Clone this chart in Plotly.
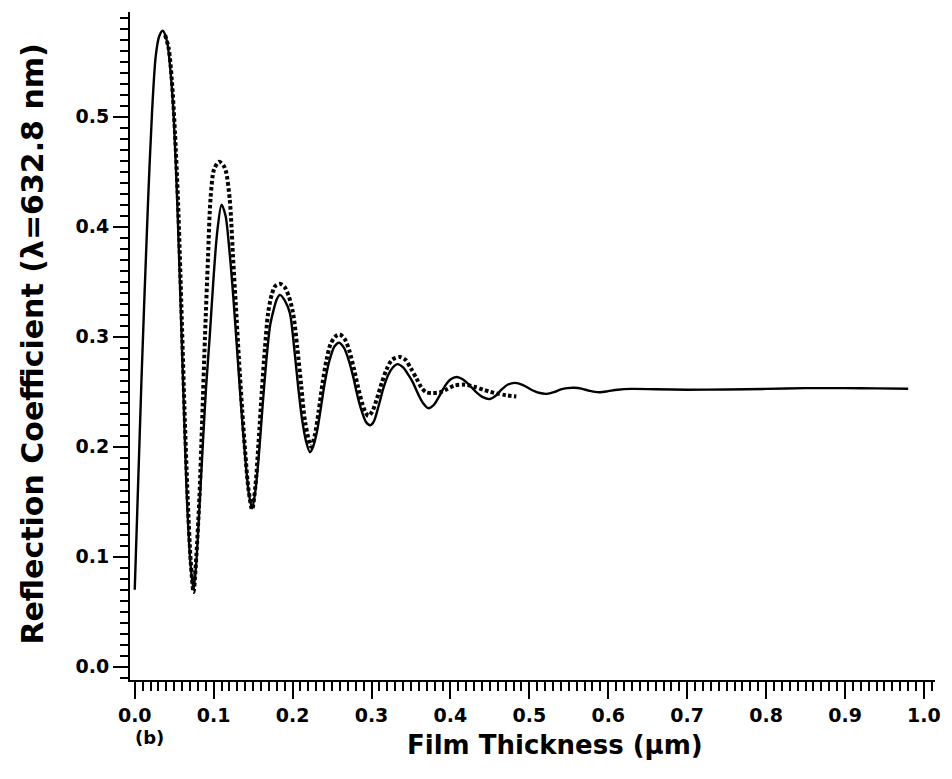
import plotly.graph_objects as go

# Computed reflection coefficient vs. film thickness (solid) and the
# second model (dotted), both at lambda = 632.8 nm
thickness_solid = [
    0.000, 0.0085, 0.017, 0.022, 0.0266, 0.031, 0.0355,
    0.041, 0.0455, 0.0494, 0.054, 0.059, 0.0634, 0.066, 0.0705, 0.0745,
    0.078, 0.0825, 0.0865, 0.0905, 0.095, 0.100, 0.1045, 0.110,
    0.115, 0.120, 0.125, 0.130, 0.135, 0.140, 0.1445, 0.1487,
    0.1525, 0.157, 0.162, 0.167, 0.1715, 0.1755, 0.180, 0.184,
    0.190, 0.1965, 0.202, 0.207, 0.212, 0.217, 0.222,
    0.226, 0.231, 0.236, 0.241, 0.247, 0.253, 0.259,
    0.265, 0.271, 0.277, 0.281, 0.286, 0.293, 0.2985,
    0.303, 0.309, 0.315, 0.321, 0.327, 0.333,
    0.340, 0.347, 0.3527, 0.359, 0.365, 0.372,
    0.379, 0.386, 0.393, 0.400, 0.408,
    0.416, 0.424, 0.432, 0.441, 0.450,
    0.457, 0.465, 0.473, 0.4816,
    0.492, 0.502, 0.512, 0.522,
    0.531, 0.540, 0.548, 0.557,
    0.566, 0.575, 0.583, 0.590,
    0.600, 0.612, 0.630, 0.660, 0.700, 0.750, 0.800, 0.850, 0.900, 0.940, 0.980,
]
reflect_solid = [
    0.070, 0.260, 0.425, 0.505, 0.555, 0.573, 0.578,
    0.568, 0.540, 0.500, 0.420, 0.310, 0.210, 0.155, 0.095, 0.070,
    0.095, 0.152, 0.205, 0.255, 0.300, 0.355, 0.395, 0.420,
    0.410, 0.378, 0.335, 0.285, 0.235, 0.190, 0.158, 0.144,
    0.158, 0.190, 0.237, 0.280, 0.310, 0.323, 0.334, 0.338,
    0.333, 0.3215, 0.290, 0.255, 0.225, 0.205, 0.195,
    0.200, 0.214, 0.236, 0.259, 0.279, 0.291, 0.2945,
    0.290, 0.279, 0.263, 0.250, 0.236, 0.2225, 0.2195,
    0.223, 0.237, 0.253, 0.265, 0.272, 0.275,
    0.272, 0.265, 0.258, 0.248, 0.240, 0.235,
    0.238, 0.246, 0.255, 0.261, 0.2633,
    0.261, 0.256, 0.250, 0.245, 0.2433,
    0.246, 0.252, 0.2565, 0.258,
    0.256, 0.252, 0.249, 0.248,
    0.2495, 0.252, 0.2532, 0.2535,
    0.2528, 0.251, 0.2498, 0.2495,
    0.2505, 0.2518, 0.2525, 0.2522, 0.2518, 0.2520, 0.2525, 0.2532, 0.2532, 0.2530, 0.2527,
]

thickness_dotted = [
    0.0385, 0.043, 0.047, 0.051, 0.055, 0.059, 0.063, 0.067, 0.071, 0.0745,
    0.078, 0.082, 0.0855, 0.089, 0.0929, 0.096, 0.1005, 0.107,
    0.113, 0.116, 0.1204, 0.1224, 0.1245, 0.128, 0.132, 0.136, 0.140, 0.144, 0.1487,
    0.153, 0.157, 0.161, 0.165, 0.169, 0.1735, 0.178, 0.184,
    0.190, 0.1955, 0.2006, 0.206, 0.211, 0.216, 0.2235,
    0.228, 0.233, 0.238, 0.243, 0.248, 0.254, 0.2598,
    0.266, 0.272, 0.278, 0.283, 0.288, 0.292, 0.296,
    0.301, 0.307, 0.313, 0.319, 0.326, 0.336,
    0.343, 0.350, 0.357, 0.363, 0.3695, 0.378, 0.3866, 0.395, 0.405, 0.418,
    0.430, 0.4415, 0.450, 0.458, 0.470, 0.4835,
]
reflect_dotted = [
    0.574, 0.562, 0.533, 0.485, 0.420, 0.330, 0.235, 0.155, 0.095, 0.068,
    0.100, 0.155, 0.225, 0.300, 0.373, 0.425, 0.452, 0.459,
    0.455, 0.449, 0.4245, 0.403, 0.373, 0.330, 0.280, 0.235, 0.195, 0.162, 0.143,
    0.165, 0.205, 0.250, 0.290, 0.3215, 0.338, 0.346, 0.348,
    0.345, 0.336, 0.3215, 0.290, 0.255, 0.222, 0.200,
    0.210, 0.232, 0.258, 0.279, 0.293, 0.300, 0.302,
    0.298, 0.287, 0.270, 0.254, 0.240, 0.232, 0.228,
    0.232, 0.244, 0.258, 0.270, 0.279, 0.2815,
    0.279, 0.271, 0.262, 0.254, 0.2494, 0.2488, 0.2494, 0.252, 0.2555, 0.2564,
    0.2545, 0.2518, 0.2500, 0.2485, 0.2468, 0.2457,
]

x_tick_vals = [0.0, 0.1, 0.2, 0.3, 0.4, 0.5, 0.6, 0.7, 0.8, 0.9, 1.0]
x_tick_text = ["0.0", "0.1", "0.2", "0.3", "0.4", "0.5", "0.6", "0.7", "0.8", "0.9", "1.0"]
y_tick_vals = [0.0, 0.1, 0.2, 0.3, 0.4, 0.5]
y_tick_text = ["0.0", "0.1", "0.2", "0.3", "0.4", "0.5"]

FONT = "DejaVu Sans"

fig = go.Figure()
fig.add_trace(go.Scatter(
    x=thickness_solid, y=reflect_solid, mode="lines",
    line=dict(color="black", width=2.4, shape="spline", smoothing=0.8),
    showlegend=False,
))
fig.add_trace(go.Scatter(
    x=thickness_dotted, y=reflect_dotted, mode="lines",
    line=dict(color="black", width=4, dash="3.5px,2.5px", shape="spline", smoothing=0.8),
    showlegend=False,
))

axis_common = dict(
    showline=True, linecolor="black", linewidth=2,
    ticks="outside", tickcolor="black", tickwidth=2,
    showgrid=False, zeroline=False,
    tickfont=dict(family=FONT, size=19, color="black", weight="bold"),
)

fig.update_xaxes(
    range=[-0.006, 1.014], tickvals=x_tick_vals, ticktext=x_tick_text,
    ticklen=17,
    minor=dict(dtick=0.01, tick0=0, ticks="outside", ticklen=9, tickwidth=1.5, tickcolor="black"),
    **axis_common,
)
fig.update_yaxes(
    range=[-0.012, 0.595], tickvals=y_tick_vals, ticktext=y_tick_text,
    ticklen=15,
    minor=dict(dtick=0.01, tick0=0, ticks="outside", ticklen=8, tickwidth=1.5, tickcolor="black"),
    **axis_common,
)

fig.update_layout(
    width=952, height=779,
    margin=dict(l=130, r=17, t=12, b=99),
    paper_bgcolor="white", plot_bgcolor="white",
    annotations=[
        dict(text="Film Thickness (μm)", xref="paper", yref="paper",
             x=0.528, y=-0.098, xanchor="center", yanchor="middle", showarrow=False,
             font=dict(family=FONT, size=26, color="black", weight="bold")),
        dict(text="Reflection Coefficient (λ=632.8 nm)", xref="paper", yref="paper",
             x=-0.121, y=0.503, xanchor="center", yanchor="middle", showarrow=False,
             textangle=-90,
             font=dict(family=FONT, size=30, color="black", weight="bold")),
        dict(text="(b)", xref="paper", yref="paper",
             x=0.024, y=-0.0868, xanchor="center", yanchor="middle", showarrow=False,
             font=dict(family=FONT, size=18, color="black", weight="bold")),
    ],
)

fig.write_html("out.html")
